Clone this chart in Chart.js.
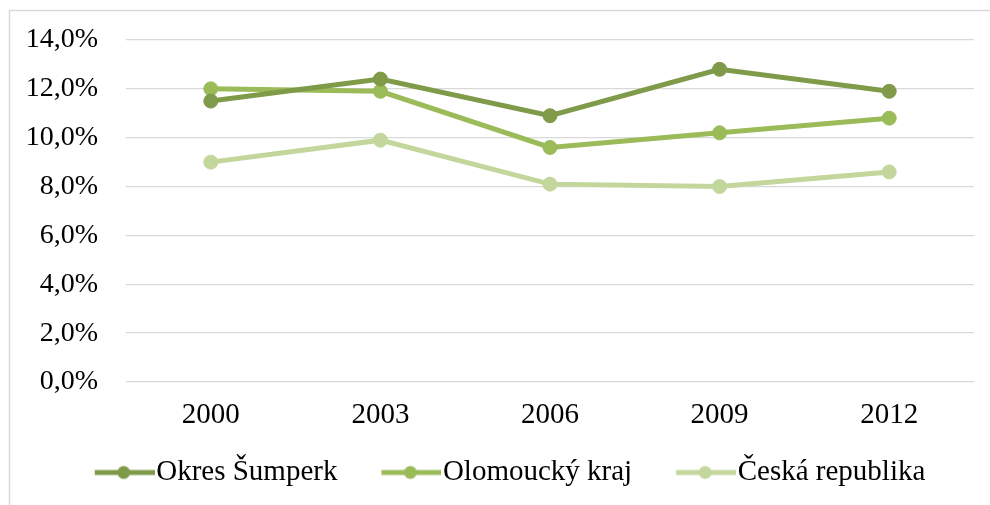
<!DOCTYPE html>
<html>
<head>
<meta charset="utf-8">
<script src="https://cdn.jsdelivr.net/npm/chart.js@4.4.1/dist/chart.umd.min.js"></script>
<style>
  html, body { margin: 0; padding: 0; background: #fff; }
  #wrap { width: 990px; height: 505px; }
</style>
</head>
<body>
<div id="wrap"><canvas id="chart" width="990" height="505"></canvas></div>
<script>
// data
const years = ['2000', '2003', '2006', '2009', '2012'];
const sumperk = [11.5, 12.4, 10.9, 12.8, 11.9];
const olomoucky = [12.0, 11.9, 9.6, 10.2, 10.8];
const cesko = [9.0, 9.9, 8.1, 8.0, 8.6];
const seriesNames = ['Okres Šumperk', 'Olomoucký kraj', 'Česká republika'];
const colors = ['#7f9a48', '#9bbb59', '#c3d69b'];

const serif = "'Liberation Serif', 'Times New Roman', serif";

// little line + dot picture for the legend (line sits in the right part)
function legendMark(color) {
    const c = document.createElement('canvas');
    c.width = 107; c.height = 16;
    const g = c.getContext('2d');
    g.strokeStyle = color;
    g.lineWidth = 5;
    g.beginPath();
    g.moveTo(47, 8);
    g.lineTo(107, 8);
    g.stroke();
    g.fillStyle = color;
    g.beginPath();
    g.arc(76, 8, 6.5, 0, Math.PI * 2);
    g.fill();
    return c;
}

const outerBorder = {
    id: 'outerBorder',
    afterLayout(chart) {
        // nudge the legend a bit to the right, like the original
        if (chart.legend) {
            chart.legend.left += 6;
            chart.legend.right += 6;
        }
    },
    beforeDraw(chart) {
        const ctx = chart.ctx;
        ctx.save();
        ctx.strokeStyle = '#d9d9d9';
        ctx.lineWidth = 1.5;
        ctx.strokeRect(9.5, 10.5, 1000, 600);
        ctx.restore();
    }
};

function makeSet(i, values) {
    return {
        label: seriesNames[i],
        data: values,
        borderColor: colors[i],
        backgroundColor: colors[i],
        pointBackgroundColor: colors[i],
        pointBorderColor: colors[i],
        borderWidth: 5,
        pointRadius: 7,
        pointBorderWidth: 1,
        pointStyle: 'circle',
        tension: 0
    };
}

const chart = document.querySelector('#chart').getContext('2d');

new Chart(chart, {
    type: 'line',
    data: {
        labels: years,
        datasets: [
            makeSet(0, sumperk),
            makeSet(1, olomoucky),
            makeSet(2, cesko)
        ]
    },
    options: {
        responsive: false,
        animation: false,
        layout: { padding: { top: 40, right: 16, bottom: 8, left: 0 } },
        plugins: {
            tooltip: { enabled: false },
            legend: {
                position: 'bottom',
                labels: {
                    usePointStyle: true,
                    pointStyleWidth: 81,
                    boxHeight: 16,
                    padding: 10,
                    color: '#000',
                    font: { family: serif, size: 29 },
                    generateLabels(ch) {
                        return ch.data.datasets.map((ds, i) => ({
                            text: ds.label,
                            pointStyle: legendMark(colors[i]),
                            fillStyle: colors[i],
                            strokeStyle: colors[i],
                            lineWidth: 0,
                            fontColor: '#000',
                            datasetIndex: i
                        }));
                    }
                }
            }
        },
        scales: {
            x: {
                offset: true,
                grid: { display: false, drawTicks: false },
                border: { display: false },
                ticks: { color: '#000', font: { family: serif, size: 29 }, padding: 16 },
                afterFit(s) { s.height = 66; }
            },
            y: {
                min: 0,
                max: 14,
                grid: { color: '#d9d9d9', lineWidth: 1.3, drawTicks: false },
                border: { display: false },
                ticks: {
                    stepSize: 2,
                    color: '#000',
                    padding: 28,
                    font: { family: serif, size: 28 },
                    callback: v => v.toFixed(1).replace('.', ',') + '%'
                },
                afterFit(s) {
                    s.width = 126;
                    s.paddingTop = 12;
                    s.paddingBottom = 12;
                }
            }
        }
    },
    plugins: [outerBorder]
});
</script>
</body>
</html>
